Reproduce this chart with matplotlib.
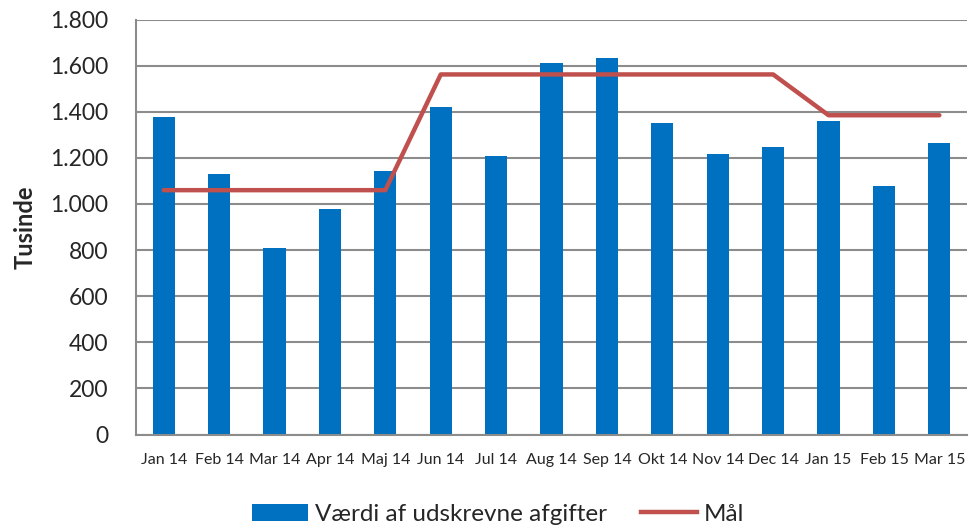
import numpy as np
import matplotlib
matplotlib.use("Agg")
import matplotlib.pyplot as plt
from matplotlib.patches import Patch
from matplotlib.lines import Line2D

plt.rcParams['font.family'] = ['Lato', 'DejaVu Sans']

# --- data ---
months = ["Jan 14", "Feb 14", "Mar 14", "Apr 14", "Maj 14", "Jun 14", "Jul 14", "Aug 14",
          "Sep 14", "Okt 14", "Nov 14", "Dec 14", "Jan 15", "Feb 15", "Mar 15"]
vaerdi = [1377, 1130, 809, 978, 1143, 1421, 1207, 1613, 1635, 1350, 1216, 1247, 1360, 1079, 1263]
maal = [1060, 1060, 1060, 1060, 1060, 1562, 1562, 1562, 1562, 1562, 1562, 1562, 1385, 1385, 1385]
yticks = [0, 200, 400, 600, 800, 1000, 1200, 1400, 1600, 1800]
ytick_labels = ["0", "200", "400", "600", "800", "1.000", "1.200", "1.400", "1.600", "1.800"]

BLUE = '#0070C0'
RED = '#C0504D'
TXT = '#262626'
GRID = '#8c8c8c'

fig = plt.figure(figsize=(9.69, 5.29), dpi=100)
ax = fig.add_axes([0.1404, 0.1786, 0.8576, 0.7844])

x = np.arange(len(months))
ax.bar(x, vaerdi, width=0.4, color=BLUE, zorder=2)
ax.plot(x, maal, color=RED, linewidth=3.2, solid_capstyle='round', zorder=3)

ax.set_xlim(-0.5, len(months) - 0.5)
ax.set_ylim(0, 1800)
ax.set_yticks(yticks)
ax.set_yticklabels(ytick_labels, fontsize=16.5, color=TXT)
ax.set_xticks(x)
ax.set_xticklabels(months, fontsize=11.5, color=TXT)
ax.tick_params(axis='both', length=0)
ax.tick_params(axis='y', pad=20)
ax.tick_params(axis='x', pad=13)

ax.grid(axis='y', color=GRID, linewidth=1.5, zorder=0)
ax.set_axisbelow(True)
for s in ['top', 'right']:
    ax.spines[s].set_visible(False)
for s in ['left', 'bottom']:
    ax.spines[s].set_color(GRID)
    ax.spines[s].set_linewidth(1.5)

ax.set_ylabel("Tusinde", fontsize=17, fontweight='bold', color=TXT, labelpad=10)

handles = [Patch(facecolor=BLUE, label="Værdi af udskrevne afgifter"),
           Line2D([0], [0], color=RED, linewidth=3.2, label="Mål")]
fig.legend(handles=handles, loc='center', bbox_to_anchor=(0.514, 0.028), ncol=2,
           frameon=False, fontsize=17.5, handlelength=2.3, handleheight=0.7,
           handletextpad=0.3, columnspacing=1.4, labelcolor=TXT)

fig.savefig("out.png", dpi=100)
